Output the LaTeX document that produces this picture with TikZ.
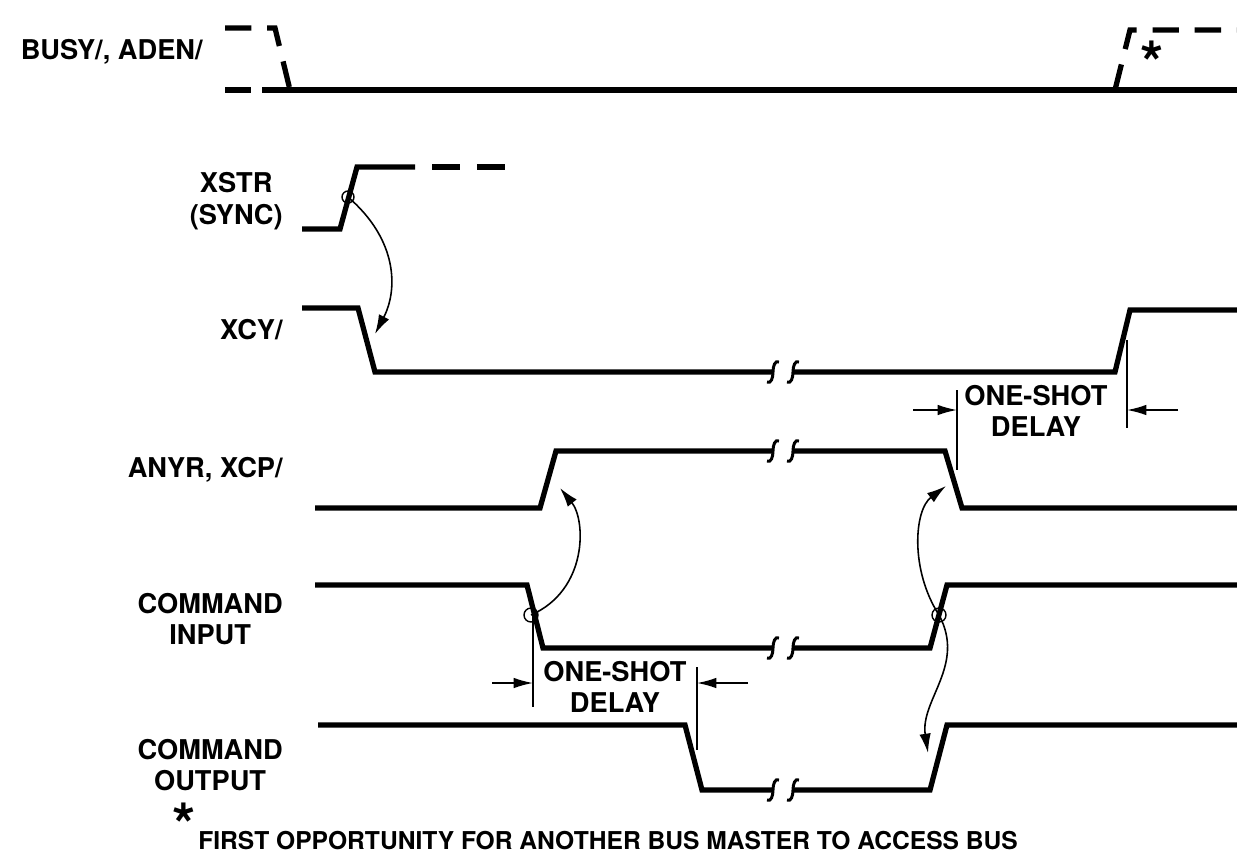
\documentclass[tikz,border=0pt]{standalone}
\usepackage{fontspec}
\setmainfont{TeX Gyre Heros}
\usetikzlibrary{arrows.meta,positioning}

\newcommand{\sigbreak}[2]{%
  \draw[brk] (#1-6,#2+10) .. controls (#1-2,#2+12) and (#1,#2+6) .. (#1,#2)
    .. controls (#1,#2-6) and (#1+2,#2-12) .. (#1+6,#2-10);
  \draw[brk] (#1+14,#2+10) .. controls (#1+18,#2+12) and (#1+20,#2+6) .. (#1+20,#2)
    .. controls (#1+20,#2-6) and (#1+22,#2-12) .. (#1+26,#2-10);}

\begin{document}
\begin{tikzpicture}[
    x=0.02cm, y=-0.02cm,
    node distance=2mm,
    sig/.style={line width=3pt, line join=miter, black},
    dsig/.style={sig, dash pattern=on 15pt off 9pt},
    brk/.style={line width=1.7pt},
    thinline/.style={line width=0.8pt},
    cause/.style={line width=0.9pt, -{Latex[length=11pt,width=6.5pt]}},
    dim/.style={line width=0.9pt, -{Latex[length=11pt,width=6pt]}},
    lbl/.style={font=\fontsize{15.5}{18}\selectfont\bfseries, align=center, inner sep=0pt},
    note/.style={font=\fontsize{14}{16}\selectfont\bfseries, inner sep=0pt},
    bigstar/.style={font=\fontsize{34}{34}\selectfont\bfseries, inner sep=0pt, text depth=0pt, anchor=base}
    ]
    \useasboundingbox (0,0) rectangle (1237,860);

    \node (busy) [lbl, anchor=east] at (203,52) {BUSY/, ADEN/};
    \node (xstr) [lbl, anchor=east] at (283,201) {XSTR\\(SYNC)};
    \node (xcy) [lbl, anchor=east] at (283,330) {XCY/};
    \node (anyr) [lbl, anchor=east] at (283,470) {ANYR, XCP/};
    \node (cmdin) [lbl, anchor=east] at (283,619) {COMMAND\\INPUT};
    \node (cmdout) [lbl, anchor=east] at (283,765) {COMMAND\\OUTPUT};

    \draw[dsig] (225,28) -- (275,28) -- (290,90);
    \draw[dsig] (225,90) -- (262,90);
    \draw[sig] (262,90) -- (1237,90);
    \draw[dsig] (1115,90) -- (1130,30) -- (1237,30);
    \node (star) [bigstar] at (1152,84) {*};

    \draw[sig] (302,229) -- (340,229) -- (357,167) -- (415,167);
    \draw[dsig, dash pattern=on 16pt off 9.5pt] (432,167) -- (505,167);

    \draw[sig] (302,308) -- (358,308) -- (375,372) -- (773,372);
    \draw[sig] (793,372) -- (1115,372) -- (1130,310) -- (1237,310);
    \sigbreak{773}{372}

    \draw[sig] (315,508) -- (540,508) -- (556,451) -- (773,451);
    \draw[sig] (793,451) -- (945,451) -- (962,508) -- (1237,508);
    \sigbreak{773}{451}

    \draw[sig] (315,585) -- (527,585) -- (543,648) -- (773,648);
    \draw[sig] (793,648) -- (930,648) -- (947,585) -- (1237,585);
    \sigbreak{773}{648}

    \draw[sig] (318,725) -- (685,725) -- (702,790) -- (773,790);
    \draw[sig] (793,790) -- (930,790) -- (947,725) -- (1237,725);
    \sigbreak{773}{790}

    \coordinate (xstrEdge) at (348,197);
    \coordinate (xcyEdge) at (375,334);
    \coordinate (inFall) at (531,615);
    \coordinate (inRise) at (939,615);
    \coordinate (anyrRise) at (560,488);
    \coordinate (anyrFall) at (946,486);
    \coordinate (outRise) at (928,753);

    \draw[thinline] (xstrEdge) circle (6);
    \draw[thinline] (inFall) circle (7);
    \draw[thinline] (inRise) circle (7);

    \draw[cause] (xstrEdge) .. controls (398,240) and (398,290) .. (xcyEdge);
    \draw[cause] (inFall) .. controls (588,590) and (586,520) .. (anyrRise);
    \draw[cause] (inRise) .. controls (910,570) and (914,510) .. (anyrFall);
    \draw[cause] (inRise) .. controls (966,665) and (920,700) .. (outRise);

    \coordinate (d1a) at (957,390);
    \coordinate (d1b) at (957,470);
    \coordinate (d1c) at (1127,340);
    \coordinate (d1d) at (1127,428);
    \draw[thinline] (d1a) -- (d1b);
    \draw[thinline] (d1c) -- (d1d);
    \coordinate (d1l) at (913,410);
    \coordinate (d1r) at (1178,410);
    \draw[dim] (d1l) -- (d1a |- d1l);
    \draw[dim] (d1r) -- (d1c |- d1r);
    \node (delay1) [lbl] at (1036,411) {ONE-SHOT\\DELAY};

    \coordinate (d2a) at (533,609);
    \coordinate (d2b) at (533,707);
    \coordinate (d2c) at (697,667);
    \coordinate (d2d) at (697,750);
    \draw[thinline] (d2a) -- (d2b);
    \draw[thinline] (d2c) -- (d2d);
    \coordinate (d2l) at (492,683);
    \coordinate (d2r) at (748,683);
    \draw[dim] (d2l) -- (d2a |- d2l);
    \draw[dim] (d2r) -- (d2c |- d2r);
    \node (delay2) [lbl] at (615,687) {ONE-SHOT\\DELAY};

    \node (fnstar) [bigstar] at (184,846) {*};
    \node (footnote) [note, anchor=west] at (198,841) {FIRST OPPORTUNITY FOR ANOTHER BUS MASTER TO ACCESS BUS};
\end{tikzpicture}
\end{document}
